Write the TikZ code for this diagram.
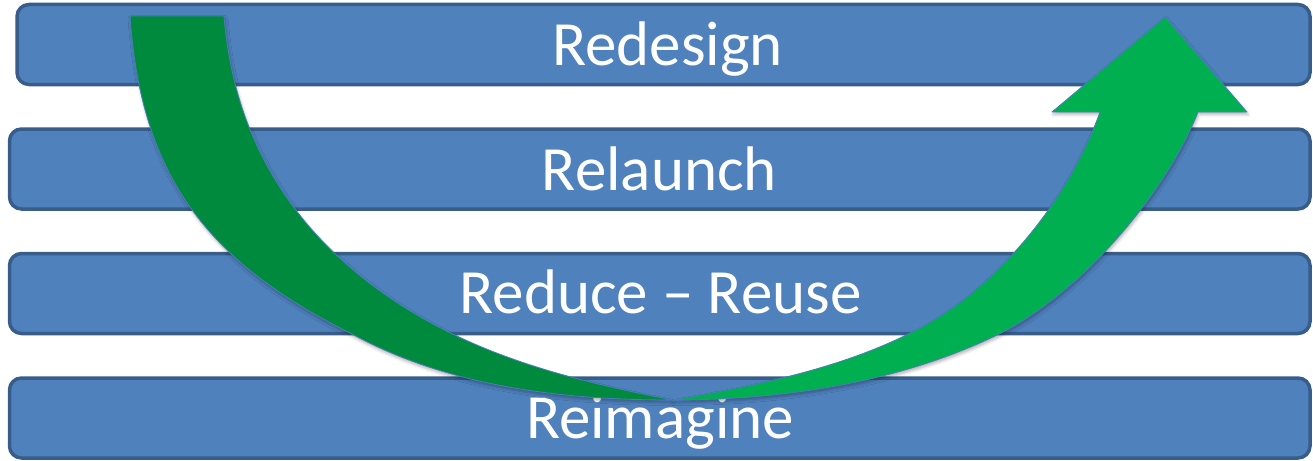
\documentclass[tikz,border=0pt]{standalone}
\usepackage{fontspec}
\setmainfont{Carlito}
\usetikzlibrary{shadows.blur}
\definecolor{barfill}{HTML}{4F81BD}
\definecolor{barline}{HTML}{385D8A}
\definecolor{tailgreen}{HTML}{008A3E}
\definecolor{headgreen}{HTML}{00B050}
\definecolor{arrowline}{HTML}{4A7EBB}
\begin{document}
\begin{tikzpicture}[x=1pt,y=-1pt,
  bar/.style={rectangle, draw=barline, fill=barfill, line width=3.5pt,
    rounded corners=12pt, inner sep=0pt, minimum height=80pt},
  bartext/.style={text=white, font=\fontsize{63}{65}\selectfont,
    anchor=base, inner sep=0pt},
  arrowpart/.style={draw=arrowline, line width=0.8pt, line join=round,
    blur shadow={shadow xshift=1pt, shadow yshift=-2.5pt,
      shadow blur radius=3pt, shadow opacity=30}}
]
\useasboundingbox (0,0) rectangle (1313,460);
% bars
\node[bar, minimum width=1293pt]   (bar1) at (663.5,44.5) {};
\node[bar, minimum width=1300.5pt] (bar2) at (659.75,169) {};
\node[bar, minimum width=1300.5pt] (bar3) at (659.75,293.5) {};
\node[bar, minimum width=1300.5pt] (bar4) at (659.75,418) {};
% texts
\node[bartext] (t1) at (667.5,65) {Redesign};
\node[bartext] (t2) at (659.5,190) {Relaunch};
\node[bartext] (t3) at (660.5,313) {Reduce \textendash{} Reuse};
\node[bartext] (t4) at (660,438) {Reimagine};
% curved arrow: dark tail
\path[arrowpart, fill=tailgreen]
  (130,16) .. controls (141,176) and (207,261.5) .. (350,333)
  .. controls (446.4,386) and (560,400) .. (672,400)
  .. controls (574,380.4) and (472.8,356.6) .. (383,293)
  .. controls (293.2,229.4) and (234,140) .. (224,16) -- cycle;
% curved arrow: bright front with head
\path[arrowpart, fill=headgreen]
  (672,400) .. controls (782,400) and (898,383) .. (997,335)
  .. controls (1078,295.6) and (1165,195.7) .. (1198,112)
  -- (1247,112) -- (1165,17) -- (1052,112) -- (1100,112)
  .. controls (1074.8,182.5) and (1025.5,250) .. (967,297)
  .. controls (889,359.5) and (770.6,383.3) .. (672,400) -- cycle;
\end{tikzpicture}
\end{document}
